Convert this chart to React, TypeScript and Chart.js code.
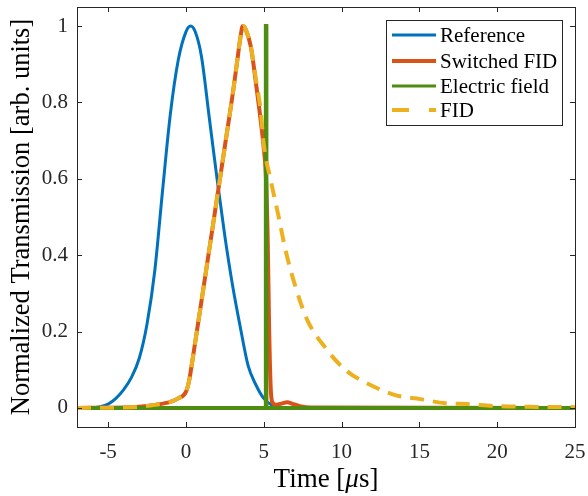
import React, { useEffect, useRef } from "react";
import { Chart, registerables } from "chart.js";

Chart.register(...registerables);

const xTickVals = [-5, 0, 5, 10, 15, 20, 25];
const xTickLabels = ["-5", "0", "5", "10", "15", "20", "25"];
const yTickVals = [0, 0.2, 0.4, 0.6, 0.8, 1];
const yTickLabels = ["0", "0.2", "0.4", "0.6", "0.8", "1"];

const refX = [-7, -6, -5.5, -5, -4.5, -4, -3.5, -3, -2.5, -2, -1.5, -1, -0.5, 0, 0.3, 0.6, 1, 1.5, 2, 2.5, 3, 3.5, 4, 4.5, 5, 5.5, 6, 7, 25];
const refY = [0, 0, 0.003, 0.01, 0.025, 0.048, 0.08, 0.13, 0.22, 0.36, 0.57, 0.77, 0.91, 0.985, 1.0, 0.985, 0.92, 0.76, 0.6, 0.45, 0.32, 0.21, 0.11, 0.06, 0.025, 0.008, 0.002, 0, 0];

const swX = [-7, -4, -3, -2, -1, -0.5, 0, 0.2, 0.4, 0.7, 1.0, 1.5, 2.0, 2.5, 3.0, 3.3, 3.5, 3.65, 3.85, 4.17, 4.5, 4.8, 5.0, 5.13, 5.25, 5.35, 5.45, 5.55, 5.8, 6.2, 6.5, 6.9, 7.5, 8, 25];
const swY = [0, 0.001, 0.003, 0.008, 0.016, 0.025, 0.042, 0.07, 0.12, 0.2, 0.28, 0.415, 0.55, 0.685, 0.82, 0.91, 0.97, 1.0, 0.99, 0.946, 0.85, 0.754, 0.68, 0.615, 0.45, 0.2, 0.05, 0.015, 0.008, 0.012, 0.015, 0.01, 0.003, 0.001, 0];

const efX = [-7, 5.13, 5.135, 5.165, 5.17, 25];
const efY = [0, 0, 1, 1, 0, 0];

const fidX = [-7, -4, -3, -2, -1, -0.5, 0, 0.2, 0.4, 0.7, 1.0, 1.5, 2.0, 2.5, 3.0, 3.3, 3.5, 3.65, 3.85, 4.17, 4.5, 4.8, 5.0, 5.45, 5.96, 6.4, 7.05, 7.8, 8.97, 10.26, 11.86, 13.5, 15.06, 16.7, 18.1, 19.7, 22, 25];
const fidY = [0, 0.001, 0.003, 0.008, 0.016, 0.025, 0.042, 0.07, 0.12, 0.2, 0.28, 0.415, 0.55, 0.685, 0.82, 0.91, 0.97, 1.0, 0.99, 0.946, 0.86, 0.78, 0.69, 0.596, 0.5, 0.413, 0.316, 0.23, 0.157, 0.099, 0.06, 0.033, 0.023, 0.012, 0.01, 0.005, 0.003, 0.002];

const seriesNames = ["Reference", "Switched FID", "Electric field", "FID"];
const colors = ["#0072BD", "#D95319", "#4E8C12", "#EDB120"];

const FONT = "'Liberation Serif', 'Times New Roman', serif";
const AXIS = "#262626";

const zip = (xs: number[], ys: number[]) => xs.map((x, i) => ({ x, y: ys[i] }));

const framePlugin = {
  id: "frame",
  afterDatasetsDraw(chart: any) {
    const { ctx, chartArea: a, scales } = chart;
    const xs = scales.x;
    const ys = scales.y;
    ctx.save();
    ctx.strokeStyle = AXIS;
    ctx.lineWidth = 1;
    ctx.strokeRect(Math.round(a.left) + 0.5, Math.round(a.top) + 0.5, Math.round(a.right - a.left), Math.round(a.bottom - a.top));
    const tl = 5;
    ctx.beginPath();
    xTickVals.forEach((v) => {
      const px = Math.round(xs.getPixelForValue(v)) + 0.5;
      ctx.moveTo(px, a.bottom);
      ctx.lineTo(px, a.bottom - tl);
      ctx.moveTo(px, a.top);
      ctx.lineTo(px, a.top + tl);
    });
    yTickVals.forEach((v) => {
      const py = Math.round(ys.getPixelForValue(v)) + 0.5;
      ctx.moveTo(a.left, py);
      ctx.lineTo(a.left + tl, py);
      ctx.moveTo(a.right, py);
      ctx.lineTo(a.right - tl, py);
    });
    ctx.stroke();

    // legend
    const bx = 386.5, by = 20.5, bw = 176, bh = 105;
    ctx.fillStyle = "#ffffff";
    ctx.fillRect(bx, by, bw, bh);
    ctx.strokeStyle = AXIS;
    ctx.strokeRect(bx, by, bw, bh);
    const rows = [35, 61, 86, 110];
    const widths = [3, 4, 3, 4];
    ctx.font = `21px ${FONT}`;
    ctx.textBaseline = "middle";
    ctx.textAlign = "left";
    seriesNames.forEach((name, i) => {
      const y = rows[i];
      ctx.beginPath();
      ctx.strokeStyle = colors[i];
      ctx.lineWidth = widths[i];
      if (i === 3) ctx.setLineDash([17, 20]);
      else ctx.setLineDash([]);
      ctx.moveTo(392, y);
      ctx.lineTo(436, y);
      ctx.stroke();
      ctx.setLineDash([]);
      ctx.fillStyle = "#000000";
      ctx.fillText(name, 440, y + 1);
    });

    // axis titles
    ctx.fillStyle = "#000000";
    ctx.font = `26.5px ${FONT}`;
    ctx.textAlign = "center";
    ctx.textBaseline = "middle";
    ctx.save();
    ctx.translate(22, (a.top + a.bottom) / 2);
    ctx.rotate(-Math.PI / 2);
    ctx.fillText("Normalized Transmission [arb. units]", 0, 0);
    ctx.restore();

    const cx = (a.left + a.right) / 2;
    const ty = 480;
    const p1 = "Time [";
    const p2 = "\u03bc";
    const p3 = "s]";
    ctx.font = `27px ${FONT}`;
    const w1 = ctx.measureText(p1).width;
    const w3 = ctx.measureText(p3).width;
    ctx.font = `italic 27px ${FONT}`;
    const w2 = ctx.measureText(p2).width;
    const total = w1 + w2 + w3;
    let sx = cx - total / 2;
    ctx.textAlign = "left";
    ctx.font = `27px ${FONT}`;
    ctx.fillText(p1, sx, ty);
    sx += w1;
    ctx.font = `italic 27px ${FONT}`;
    ctx.fillText(p2, sx, ty);
    sx += w2;
    ctx.font = `27px ${FONT}`;
    ctx.fillText(p3, sx, ty);
    ctx.restore();
  },
};

export default function App() {
  const ref = useRef<HTMLCanvasElement | null>(null);
  useEffect(() => {
    if (!ref.current) return;
    const chart = new Chart(ref.current, {
      type: "line",
      data: {
        datasets: [
          {
            label: seriesNames[0],
            data: zip(refX, refY),
            borderColor: colors[0],
            borderWidth: 3,
            pointRadius: 0,
            cubicInterpolationMode: "monotone",
            order: 4,
          },
          {
            label: seriesNames[1],
            data: zip(swX, swY),
            borderColor: colors[1],
            borderWidth: 4,
            pointRadius: 0,
            cubicInterpolationMode: "monotone",
            order: 3,
          },
          {
            label: seriesNames[2],
            data: zip(efX, efY),
            borderColor: colors[2],
            borderWidth: 4,
            pointRadius: 0,
            tension: 0,
            order: 2,
          },
          {
            label: seriesNames[3],
            data: zip(fidX, fidY),
            borderColor: colors[3],
            borderWidth: 4,
            borderDash: [14, 9],
            pointRadius: 0,
            cubicInterpolationMode: "monotone",
            order: 1,
          },
        ],
      },
      options: {
        animation: false,
        responsive: true,
        maintainAspectRatio: false,
        layout: { padding: { top: 7, right: 13, left: 0, bottom: 0 } },
        plugins: { legend: { display: false }, tooltip: { enabled: false } },
        scales: {
          x: {
            type: "linear",
            min: -7,
            max: 25,
            grid: { display: false, drawTicks: false },
            border: { display: false },
            afterBuildTicks: (s: any) => {
              s.ticks = xTickVals.map((v) => ({ value: v }));
            },
            afterFit: (s: any) => {
              s.height = 69;
              s.paddingLeft = 0;
              s.paddingRight = 0;
            },
            ticks: {
              padding: 13,
              maxRotation: 0,
              autoSkip: false,
              color: AXIS,
              font: { family: FONT, size: 21 },
              callback: (v: any) => xTickLabels[xTickVals.indexOf(Number(v))] ?? "",
            },
          },
          y: {
            type: "linear",
            min: -0.05,
            max: 1.05,
            grid: { display: false, drawTicks: false },
            border: { display: false },
            afterBuildTicks: (s: any) => {
              s.ticks = yTickVals.map((v) => ({ value: v }));
            },
            afterFit: (s: any) => {
              s.width = 77;
              s.paddingTop = 0;
              s.paddingBottom = 0;
            },
            ticks: {
              padding: 9,
              autoSkip: false,
              color: AXIS,
              font: { family: FONT, size: 21 },
              callback: (v: any) => yTickLabels[yTickVals.indexOf(Number(v))] ?? "",
            },
          },
        },
      },
      plugins: [framePlugin],
    });
    return () => chart.destroy();
  }, []);
  return (
    <div style={{ position: "fixed", left: 0, top: 0, width: 588, height: 496, background: "#fff" }}>
      <canvas ref={ref} />
    </div>
  );
}
